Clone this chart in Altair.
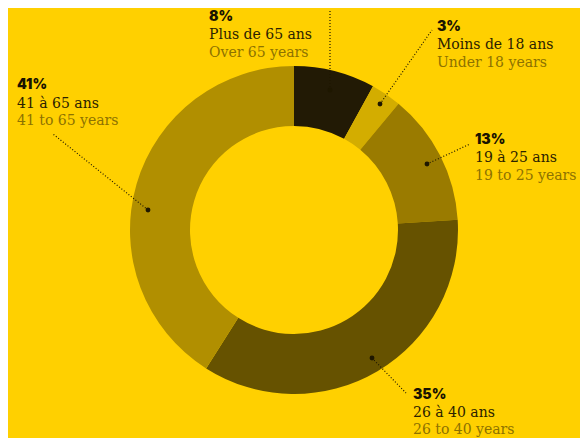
import altair as alt
import pandas as pd

# ---- data ----
shares = [8, 3, 13, 35, 41]
pct_labels = ["8%", "3%", "13%", "35%", "41%"]
labels_fr = ["Plus de 65 ans", "Moins de 18 ans", "19 à 25 ans", "26 à 40 ans", "41 à 65 ans"]
labels_en = ["Over 65 years", "Under 18 years", "19 to 25 years", "26 to 40 years", "41 to 65 years"]
seg_colors = ["#221a05", "#d3ad00", "#9a7b00", "#665200", "#b18f00"]

# ---- layout (reference pixel coordinates) ----
text_x = [209, 437, 475, 413, 17]
pct_base = [21, 31, 144, 399, 89]
fr_base = [39, 49, 162, 417, 108]
en_base = [57, 67, 180, 434, 125]
dot_x = [330, 380, 427, 372, 148]
dot_y = [90, 104, 164, 358, 210]
end_x = [330, 432, 470, 406, 53]
end_y = [9, 30, 144, 393, 134]

BG = "#ffd000"
W, H = 572, 430

df = pd.DataFrame({
    "idx": list(range(len(shares))),
    "share": shares,
    "pct": pct_labels,
    "fr": labels_fr,
    "en": labels_en,
    "tx": text_x,
    "yp": pct_base,
    "yf": fr_base,
    "ye": en_base,
    "dx": dot_x,
    "dy": dot_y,
    "ex": end_x,
    "ey": end_y,
})

xs = alt.Scale(domain=[8, 8 + W], range=[0, W])
ys = alt.Scale(domain=[8 + H, 8])

donut = alt.Chart(df).mark_arc(
    innerRadius=104, outerRadius=164, x=294 - 8, y=230 - 8, stroke=None
).encode(
    theta=alt.Theta("share:Q", stack=True),
    order=alt.Order("idx:Q"),
    color=alt.Color("idx:N", scale=alt.Scale(domain=list(range(5)), range=seg_colors), legend=None),
)

base = alt.Chart(df)

leaders = base.mark_rule(strokeDash=[1, 2], strokeWidth=1.2, color="#1e1700").encode(
    x=alt.X("dx:Q", scale=xs, axis=None),
    y=alt.Y("dy:Q", scale=ys, axis=None),
    x2="ex:Q",
    y2="ey:Q",
)

dots = base.mark_circle(size=24, color="#1e1700", opacity=1).encode(
    x=alt.X("dx:Q", scale=xs, axis=None),
    y=alt.Y("dy:Q", scale=ys, axis=None),
)

pct_text = base.mark_text(
    align="left", baseline="alphabetic", font="Inter", fontWeight=900, fontSize=14, color="#1a1400"
).encode(
    x=alt.X("tx:Q", scale=xs, axis=None),
    y=alt.Y("yp:Q", scale=ys, axis=None),
    text="pct:N",
)

fr_text = base.mark_text(
    align="left", baseline="alphabetic", font="DejaVu Serif", fontSize=14, color="#2b2200"
).encode(
    x=alt.X("tx:Q", scale=xs, axis=None),
    y=alt.Y("yf:Q", scale=ys, axis=None),
    text="fr:N",
)

en_text = base.mark_text(
    align="left", baseline="alphabetic", font="DejaVu Serif", fontSize=14, color="#8d7200"
).encode(
    x=alt.X("tx:Q", scale=xs, axis=None),
    y=alt.Y("ye:Q", scale=ys, axis=None),
    text="en:N",
)

chart = alt.layer(donut, leaders, dots, pct_text, fr_text, en_text).properties(
    width=W, height=H, background=BG, padding=0, autosize=alt.AutoSizeParams(type="none")
).configure_view(stroke=None)

chart.save("out.html", embed_options={"renderer": "svg", "actions": False})
